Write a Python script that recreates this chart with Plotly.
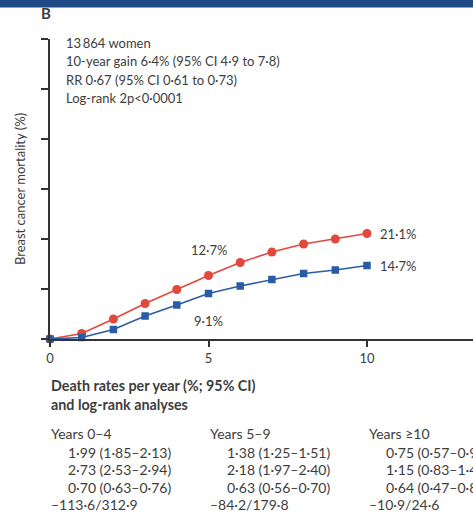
import plotly.graph_objects as go

years = list(range(0, 11))
red_vals = [0, 1.1, 4.0, 7.1, 9.9, 12.7, 15.3, 17.4, 19.0, 20.0, 21.1]
blue_vals = [0, 0.3, 1.9, 4.6, 6.8, 9.1, 10.6, 11.9, 13.1, 13.8, 14.7]

header_lines = ["13\u2009864 women",
                "10-year gain 6\u00b74% (95% CI 4\u00b79 to 7\u00b78)",
                "RR 0\u00b767 (95% CI 0\u00b761 to 0\u00b773)",
                "Log-rank 2p<0\u00b70001"]
period_titles = ["Years 0\u20134", "Years 5\u20139", "Years \u226510"]
rate_rows = [
    ["1\u00b799 (1\u00b785\u20132\u00b713)", "2\u00b773 (2\u00b753\u20132\u00b794)", "0\u00b770 (0\u00b763\u20130\u00b776)"],
    ["1\u00b738 (1\u00b725\u20131\u00b751)", "2\u00b718 (1\u00b797\u20132\u00b740)", "0\u00b763 (0\u00b756\u20130\u00b770)"],
    ["0\u00b775 (0\u00b757\u20130\u00b793)", "1\u00b715 (0\u00b783\u20131\u00b747)", "0\u00b764 (0\u00b747\u20130\u00b787)"],
]
logrank = ["\u2013113\u00b76/312\u00b79", "\u201384\u00b72/179\u00b78", "\u201310\u00b79/24\u00b76"]

RED = "#e2483b"
BLUE = "#2a5ba6"
TXT = "#3d3d3d"
FONT = "Lato"

W, H = 473, 526
L, T, B = 50, 39, 187
PW = W - L
PH = H - T - B

def px(x):
    return (x - L) / PW

def py(y):
    return (H - B - y) / PH

fig = go.Figure()
fig.add_trace(go.Scatter(x=years, y=red_vals, mode="lines+markers",
                         line=dict(color=RED, width=1.6),
                         marker=dict(symbol="circle", size=9, color=RED),
                         showlegend=False, cliponaxis=False))
fig.add_trace(go.Scatter(x=years, y=blue_vals, mode="lines+markers",
                         line=dict(color=BLUE, width=1.6),
                         marker=dict(symbol="square", size=7.5, color=BLUE),
                         showlegend=False, cliponaxis=False))

ann = []
def add(text, x, y, size=13, bold=False, anchor="left"):
    t = f"<b>{text}</b>" if bold else text
    ann.append(dict(text=t, xref="paper", yref="paper", x=px(x), y=py(y),
                    xanchor=anchor, yanchor="middle", showarrow=False,
                    font=dict(family=FONT, size=size, color=TXT)))

for i, line in enumerate(header_lines):
    add(line, 64, 43 + i * 18.3)

def data_label(text, x, y, xanchor, yshift=0, xshift=0):
    ann.append(dict(text=text, x=x, y=y, xref="x", yref="y", xanchor=xanchor,
                    yanchor="middle", showarrow=False, yshift=yshift, xshift=xshift,
                    font=dict(family=FONT, size=13, color=TXT)))

data_label("21\u00b71%", years[10], red_vals[10], "left", xshift=11)
data_label("14\u00b77%", years[10], blue_vals[10], "left", xshift=11)
data_label("12\u00b77%", years[5], red_vals[5], "center", yshift=26)
data_label("9\u00b71%", years[5], blue_vals[5], "center", yshift=-27)

add("B", 39, 13, size=15, bold=True)
add("Death rates per year (%; 95% CI)", 49, 385, size=14.3, bold=True)
add("and log-rank analyses", 49, 404, size=14.3, bold=True)

col_x = [49, 208, 367]
for c in range(3):
    add(period_titles[c], col_x[c], 433, size=14)
    for r in range(3):
        add(rate_rows[c][r], col_x[c] + 17, 452 + r * 17.5, size=14)
    add(logrank[c], col_x[c], 504, size=14)

fig.update_layout(
    width=W, height=H,
    margin=dict(l=L, r=0, t=T, b=B, autoexpand=False),
    paper_bgcolor="white", plot_bgcolor="white",
    annotations=ann,
    shapes=[dict(type="rect", xref="paper", yref="paper",
                 x0=px(0), x1=px(W), y0=py(0), y1=py(7.5),
                 fillcolor="#1f4a86", line=dict(width=0), layer="above")],
    xaxis=dict(range=[0, PW / 31.7], tickvals=[0, 5, 10], ticktext=["0", "5", "10"],
               automargin=False,
               showgrid=False, zeroline=False, showline=True, linecolor="#333",
               linewidth=2, ticks="outside", ticklen=6, tickwidth=1.5, tickcolor="#333",
               tickfont=dict(family=FONT, size=13, color=TXT)),
    yaxis=dict(range=[0, 60], tickvals=[0, 10, 20, 30, 40, 50, 60], showticklabels=False,
               automargin=False,
               showgrid=False, zeroline=False, showline=True, linecolor="#333",
               linewidth=2, ticks="outside", ticklen=7, tickwidth=1.5, tickcolor="#333",
               title=dict(text="Breast cancer mortality (%)", standoff=12,
                          font=dict(family=FONT, size=13, color=TXT))),
)

fig.write_html("out.html", config={"displayModeBar": False},
               post_script="document.body.style.margin='0';document.body.style.overflow='hidden';")
